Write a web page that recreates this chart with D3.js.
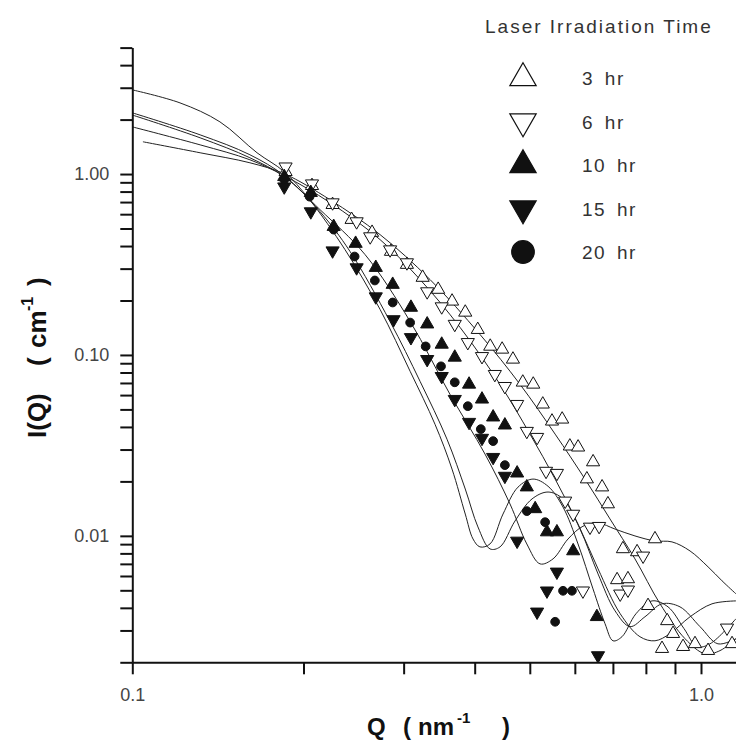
<!DOCTYPE html>
<html>
<head>
<meta charset="utf-8">
<script src="https://cdn.jsdelivr.net/npm/d3@7"></script>
<style>
body { margin: 0; background: #fff; }
svg { display: block; }
</style>
</head>
<body>
<svg id="chart" width="736" height="742"></svg>
<script>
// irradiation times (legend order)
var times = ["3 hr", "6 hr", "10 hr", "15 hr", "20 hr"];

// measured points, Q in nm^-1, I in cm^-1
var q3 = [0.186,0.207,0.225,0.243,0.264,0.285,0.304,0.324,0.345,0.365,0.385,0.405,0.426,0.447,0.467,0.486,0.507,0.527,0.547,0.570,0.588,0.608,0.630,0.646,0.670,0.686,0.712,0.729,0.744,0.772,0.807,0.830,0.854,0.872,0.893,0.930,0.976,1.029,1.134];
var i3 = [1.03,0.862,0.677,0.560,0.475,0.373,0.316,0.268,0.230,0.198,0.172,0.138,0.1115,0.1074,0.0946,0.0706,0.0688,0.0534,0.0430,0.0441,0.0313,0.0309,0.0206,0.0256,0.0186,0.0150,0.00571,0.00847,0.00578,0.00815,0.00411,0.00961,0.00238,0.00339,0.00288,0.00244,0.00253,0.00232,0.00253];

var q6 = [0.186,0.207,0.225,0.248,0.262,0.284,0.304,0.330,0.350,0.369,0.389,0.412,0.434,0.452,0.475,0.494,0.515,0.534,0.558,0.577,0.596,0.620,0.638,0.662,0.721,0.744,0.791,1.111];
var i6 = [1.097,0.884,0.695,0.546,0.451,0.382,0.324,0.224,0.185,0.148,0.1174,0.0982,0.0782,0.0671,0.0534,0.0379,0.0351,0.0228,0.0222,0.0156,0.0132,0.00497,0.0112,0.0113,0.00478,0.00503,0.00775,0.00310];

var q10 = [0.185,0.206,0.226,0.247,0.268,0.287,0.309,0.330,0.350,0.369,0.391,0.412,0.431,0.452,0.475,0.494,0.511,0.536,0.558,0.596,0.656];
var i10 = [0.966,0.789,0.512,0.413,0.304,0.245,0.183,0.148,0.1144,0.0970,0.0688,0.0569,0.0453,0.0409,0.0222,0.0186,0.0141,0.0105,0.0105,0.00825,0.00357];

var q15 = [0.185,0.206,0.225,0.248,0.268,0.288,0.309,0.330,0.350,0.369,0.391,0.412,0.431,0.452,0.475,0.515,0.536,0.558,0.659];
var i15 = [0.851,0.620,0.377,0.304,0.210,0.157,0.125,0.0946,0.0762,0.0569,0.0425,0.0347,0.0272,0.0214,0.00937,0.00380,0.00497,0.00632,0.00218];

var q20 = [0.185,0.205,0.226,0.246,0.267,0.287,0.308,0.328,0.349,0.369,0.389,0.410,0.431,0.452,0.494,0.532,0.554,0.572,0.593];
var i20 = [0.930,0.750,0.493,0.350,0.258,0.195,0.151,0.1115,0.0865,0.0706,0.0521,0.0389,0.0334,0.0246,0.0137,0.0119,0.00335,0.00497,0.00497];

// fitted curves
var fq3 = [0.1044,0.1316,0.161,0.185,0.2227,0.2727,0.3338,0.4086,0.4806,0.554,0.6252,0.6918,0.7654,0.8472,0.9374,1.016,1.080,1.152];
var fi3 = [1.508,1.311,1.154,1.004,0.721,0.4626,0.2612,0.1299,0.0688,0.0365,0.0206,0.0124,0.00746,0.00421,0.0027,0.00223,0.00232,0.0027];

var fq6 = [0.100,0.1316,0.161,0.185,0.2227,0.2727,0.3206,0.377,0.4432,0.5004,0.554,0.6078,0.6591,0.721,0.781,0.830,0.882,0.9566,1.0455,1.152];
var fi6 = [1.823,1.45,1.199,0.979,0.695,0.434,0.2612,0.142,0.0688,0.0365,0.0206,0.01163,0.00657,0.00371,0.00277,0.00263,0.00288,0.00357,0.00421,0.00437];

var fq10 = [0.100,0.1316,0.161,0.185,0.2138,0.2566,0.308,0.3619,0.4171,0.4615,0.494,0.5212,0.5493,0.5837,0.620,0.6591,0.7061,0.7654,0.830,0.8892,0.9566,1.029,1.089,1.152];
var fi10 = [2.12,1.586,1.23,0.966,0.636,0.3588,0.1532,0.0606,0.0283,0.0150,0.00902,0.0070,0.00746,0.00961,0.0113,0.01178,0.0109,0.00999,0.00937,0.00926,0.00825,0.00674,0.00564,0.00478];

var fq15 = [0.100,0.1213,0.1426,0.1657,0.185,0.205,0.2366,0.2727,0.308,0.3406,0.3649,0.385,0.3973,0.4086,0.4256,0.4486,0.4767,0.5065,0.5383,0.5719,0.6078,0.6458,0.678,0.7003,0.7262,0.7685,0.8202,0.875,0.9336,0.984,1.0371,1.152];
var fi15 = [2.92,2.474,1.943,1.311,1.03,0.721,0.382,0.1785,0.0812,0.0414,0.0234,0.0132,0.00961,0.00869,0.00902,0.0132,0.0186,0.0206,0.0188,0.01443,0.00902,0.00509,0.00327,0.00263,0.00277,0.00371,0.00437,0.00405,0.00307,0.00244,0.00253,0.00348];

var fq20 = [0.100,0.1316,0.161,0.185,0.2138,0.2415,0.2839,0.3206,0.3576,0.385,0.4053,0.4256,0.4432,0.4709,0.5045,0.5383,0.5719,0.6128,0.6591,0.7061,0.7503,0.797,0.854,0.9185,0.9959,1.071,1.152];
var fi20 = [2.18,1.647,1.278,0.979,0.620,0.373,0.1532,0.0715,0.0342,0.01815,0.0112,0.00847,0.00869,0.01208,0.0160,0.01747,0.0160,0.0109,0.00616,0.00385,0.00315,0.00357,0.00421,0.00405,0.00315,0.00253,0.0027];

// axis ticks
var yTicks = [0.002,0.003,0.004,0.005,0.006,0.007,0.008,0.009,0.01,0.02,0.03,0.04,0.05,0.06,0.07,0.08,0.09,0.1,0.2,0.3,0.4,0.5,0.6,0.7,0.8,0.9,1,2,3,4,5];
var yLabels = {"0.01": "0.01", "0.1": "0.10", "1": "1.00"};
var xTicks = [0.1,0.2,0.3,0.4,0.5,0.6,0.7,0.8,0.9,1.0];
var xLabels = {"0.1": "0.1", "1": "1.0"};

var series = [
  {name: times[0], q: q3, i: i3, shape: d3.symbolTriangle, rot: 0, filled: false},
  {name: times[1], q: q6, i: i6, shape: d3.symbolTriangle, rot: 180, filled: false},
  {name: times[2], q: q10, i: i10, shape: d3.symbolTriangle, rot: 0, filled: true},
  {name: times[3], q: q15, i: i15, shape: d3.symbolTriangle, rot: 180, filled: true},
  {name: times[4], q: q20, i: i20, shape: d3.symbolCircle, rot: 0, filled: true}
];
var fits = [[fq3, fi3], [fq6, fi6], [fq10, fi10], [fq15, fi15], [fq20, fi20]];

var svg = d3.select("#chart");
var font = "'Liberation Sans', Arial, sans-serif";

var x = d3.scaleLog().domain([0.1, 1.2]).range([132.3, 132.3 + 568.7 * Math.log10(12)]);
var y = d3.scaleLog().domain([0.002, 5]).range([662.3, 47.6]);

svg.append("clipPath").attr("id", "plotclip")
  .append("rect").attr("x", 132).attr("y", 30).attr("width", 620).attr("height", 633);

var plot = svg.append("g").attr("clip-path", "url(#plotclip)");

// fitted lines
var line = d3.line()
  .x(function(d) { return x(d[0]); })
  .y(function(d) { return y(d[1]); })
  .curve(d3.curveCatmullRom.alpha(0.5));

fits.forEach(function(f) {
  var pts = f[0].map(function(q, k) { return [q, f[1][k]]; });
  plot.append("path")
    .attr("d", line(pts))
    .attr("fill", "none")
    .attr("stroke", "#222")
    .attr("stroke-width", 1);
});

// data markers
series.forEach(function(s) {
  var sym = d3.symbol().type(s.shape).size(s.shape === d3.symbolCircle ? 60 : 75);
  plot.selectAll(null)
    .data(s.q.map(function(q, k) { return [q, s.i[k]]; }))
    .enter().append("path")
    .attr("d", sym)
    .attr("transform", function(d) {
      return "translate(" + x(d[0]) + "," + y(d[1]) + ") rotate(" + s.rot + ")";
    })
    .attr("fill", s.filled ? "#111" : "#fff")
    .attr("stroke", "#111")
    .attr("stroke-width", 1);
});

// axes
var yAxis = d3.axisLeft(y)
  .tickValues(yTicks)
  .tickSize(12)
  .tickSizeOuter(0)
  .tickPadding(11)
  .tickFormat(function(d) { return yLabels[String(+d.toPrecision(3))] || ""; });

var xAxis = d3.axisBottom(x)
  .tickValues(xTicks)
  .tickSize(12)
  .tickSizeOuter(0)
  .tickPadding(14)
  .tickFormat(function(d) { return xLabels[String(+d.toPrecision(3))] || ""; });

var gy = svg.append("g").attr("transform", "translate(132.3,0)").call(yAxis);
var gx = svg.append("g").attr("transform", "translate(0,662.3)").call(xAxis);

[gx, gy].forEach(function(g) {
  g.select(".domain").attr("stroke", "#111").attr("stroke-width", 2);
  g.selectAll(".tick line").attr("stroke", "#111").attr("stroke-width", 2);
  g.selectAll(".tick text")
    .attr("font-family", font)
    .attr("font-size", 18)
    .attr("fill", "#444");
});

// axis titles, pieces placed like the original layout
var xt = svg.append("g")
  .attr("font-family", font)
  .attr("font-weight", "bold")
  .attr("fill", "#111");
xt.append("text").attr("x", 367).attr("y", 735).attr("font-size", 24).text("Q");
xt.append("text").attr("x", 403).attr("y", 735).attr("font-size", 24).text("(");
xt.append("text").attr("x", 418).attr("y", 735).attr("font-size", 24).text("nm");
xt.append("text").attr("x", 457).attr("y", 723).attr("font-size", 15).text("-1");
xt.append("text").attr("x", 502).attr("y", 735).attr("font-size", 24).text(")");

var yt = svg.append("g")
  .attr("transform", "translate(46,0) rotate(-90)")
  .attr("font-family", font)
  .attr("font-weight", "bold")
  .attr("fill", "#111");
yt.append("text").attr("x", -438).attr("y", 0).attr("font-size", 26).text("I(Q)");
yt.append("text").attr("x", -366).attr("y", 0).attr("font-size", 26).text("(");
yt.append("text").attr("x", -348).attr("y", 0).attr("font-size", 26).text("cm");
yt.append("text").attr("x", -311).attr("y", -13).attr("font-size", 16).text("-1");
yt.append("text").attr("x", -286).attr("y", 0).attr("font-size", 26).text(")");

// legend
svg.append("text")
  .attr("x", 485).attr("y", 33)
  .attr("font-family", font)
  .attr("font-size", 19)
  .attr("letter-spacing", 2)
  .attr("fill", "#333")
  .text("Laser Irradiation Time");

series.forEach(function(s, k) {
  var cy = 78 + k * 43.5;
  var big = s.shape === d3.symbolCircle ? 400 : 300;
  svg.append("path")
    .attr("d", d3.symbol().type(s.shape).size(big)())
    .attr("transform", "translate(523," + cy + ") rotate(" + s.rot + ")")
    .attr("fill", s.filled ? "#111" : "#fff")
    .attr("stroke", "#111")
    .attr("stroke-width", 1.2);
  svg.append("text")
    .attr("x", 582).attr("y", cy + 7)
    .attr("font-family", font)
    .attr("font-size", 19)
    .attr("letter-spacing", 1.5)
    .attr("word-spacing", 4)
    .attr("fill", "#333")
    .text(s.name);
});
</script>
</body>
</html>
